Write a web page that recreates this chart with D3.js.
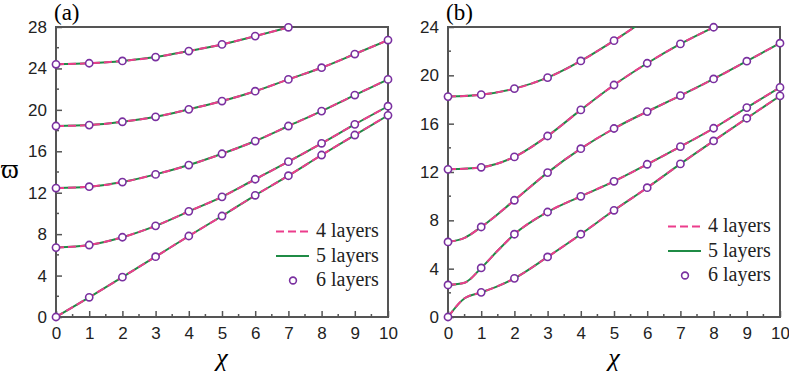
<!DOCTYPE html>
<html>
<head>
<meta charset="utf-8">
<script src="https://cdn.jsdelivr.net/npm/d3@7"></script>
<style>
  body { margin: 0; background: #fff; }
  svg .tick text { font-family: "Liberation Sans", Arial, Helvetica, sans-serif; font-size: 17px; fill: #222; }
  .serif { font-family: "Liberation Serif", "Times New Roman", Times, serif; }
</style>
</head>
<body>
<div id="chart"></div>
<script>
// chi values where the 6-layer circles sit
const chi = [0, 1, 2, 3, 4, 5, 6, 7, 8, 9, 10]

// panel (a) branches, omega at chi = 0..10
const a1 = [0, 1.9, 3.85, 5.82, 7.82, 9.75, 11.75, 13.64, 15.64, 17.57, 19.47]
const a2 = [6.7, 6.95, 7.7, 8.8, 10.2, 11.6, 13.3, 15.0, 16.77, 18.6, 20.35]
const a3 = [12.45, 12.58, 13.03, 13.77, 14.67, 15.76, 16.99, 18.44, 19.88, 21.43, 22.94]
const a4 = [18.44, 18.53, 18.85, 19.33, 20.05, 20.85, 21.8, 22.94, 24.07, 25.39, 26.74]
const a5 = [24.4, 24.5, 24.72, 25.1, 25.68, 26.32, 27.12, 27.97, 28.9]

// panel (b) branches
const b1 = [0, 2.04, 3.2, 4.97, 6.85, 8.83, 10.7, 12.67, 14.57, 16.45, 18.3]
const b2 = [2.65, 4.06, 6.85, 8.69, 9.99, 11.23, 12.64, 14.1, 15.62, 17.33, 19.0]
const b3 = [6.21, 7.45, 9.66, 11.95, 13.93, 15.6, 17.0, 18.32, 19.7, 21.17, 22.66]
const b4 = [12.22, 12.39, 13.25, 14.98, 17.14, 19.2, 21.0, 22.6, 23.98, 25.3]
const b5 = [18.24, 18.4, 18.9, 19.81, 21.19, 22.87, 24.7]

// extra points read between the circles, where the curves bend hard
const b1Mid = [[0.5, 1.55], [1.5, 2.55]]
const b2Mid = [[0.5, 2.84], [1.5, 5.5]]
const b3Mid = [[0.5, 6.55]]

const xTicks = [0, 1, 2, 3, 4, 5, 6, 7, 8, 9, 10]
const aTicks = [0, 4, 8, 12, 16, 20, 24, 28]
const bTicks = [0, 4, 8, 12, 16, 20, 24]
const legendLabels = ['4 layers', '5 layers', '6 layers']

const width = 789
const height = 373
const pink = '#ec3d8c'
const green = '#1f8b45'
const purple = '#7a30a0'
const axisColor = '#555'

const svg = d3.select('#chart').append('svg')
  .attr('width', width)
  .attr('height', height)

function panel (opts) {
  const { id, left, right, top, bottom, yMax, yTicks, series, mids, label, legendY } = opts
  const x = d3.scaleLinear().domain([0, 10]).range([left, right])
  const y = d3.scaleLinear().domain([0, yMax]).range([bottom, top])

  svg.append('clipPath').attr('id', 'clip-' + id)
    .append('rect')
    .attr('x', left).attr('y', top)
    .attr('width', right - left).attr('height', bottom - top)

  const g = svg.append('g')

  // minor ticks
  const xMinor = d3.range(0.5, 10, 1)
  const yMinor = d3.range(2, yMax, 4)
  g.selectAll('.xminor').data(xMinor).join('line')
    .attr('x1', d => x(d)).attr('x2', d => x(d))
    .attr('y1', bottom).attr('y2', bottom - 3)
    .attr('stroke', axisColor).attr('stroke-width', 1.5)
  g.selectAll('.yminor').data(yMinor).join('line')
    .attr('x1', left).attr('x2', left + 3)
    .attr('y1', d => y(d)).attr('y2', d => y(d))
    .attr('stroke', axisColor).attr('stroke-width', 1.5)

  const xAxis = d3.axisBottom(x).tickValues(xTicks).tickSizeInner(-6).tickSizeOuter(0).tickPadding(10)
  const yAxis = d3.axisLeft(y).tickValues(yTicks).tickSizeInner(-6).tickSizeOuter(0).tickPadding(9)

  const gx = g.append('g').attr('transform', `translate(0,${bottom})`).call(xAxis)
  const gy = g.append('g').attr('transform', `translate(${left},0)`).call(yAxis)
  ;[gx, gy].forEach(a => {
    a.attr('font-family', null).attr('font-size', null)
    a.select('.domain').remove()
    a.selectAll('.tick line').attr('stroke', axisColor).attr('stroke-width', 1.5)
  })

  // frame
  g.append('rect')
    .attr('x', left).attr('y', top)
    .attr('width', right - left).attr('height', bottom - top)
    .attr('fill', 'none').attr('stroke', axisColor).attr('stroke-width', 2)

  const line = d3.line()
    .x(d => x(d[0])).y(d => y(d[1]))
    .curve(d3.curveMonotoneX)

  const plot = svg.append('g').attr('clip-path', `url(#clip-${id})`)
  series.forEach((vals, i) => {
    const pts = vals.map((v, k) => [chi[k], v]).concat(mids[i] || [])
      .sort((p, q) => p[0] - q[0])
    plot.append('path').datum(pts)
      .attr('d', line)
      .attr('fill', 'none').attr('stroke', green).attr('stroke-width', 2)
    plot.append('path').datum(pts)
      .attr('d', line)
      .attr('fill', 'none').attr('stroke', pink).attr('stroke-width', 2)
      .attr('stroke-dasharray', '8,4')
  })

  const circ = svg.append('g')
  series.forEach(vals => {
    circ.selectAll(null)
      .data(vals.map((v, k) => [chi[k], v]).filter(d => d[1] <= yMax))
      .join('circle')
      .attr('cx', d => x(d[0])).attr('cy', d => y(d[1]))
      .attr('r', 3.6)
      .attr('fill', '#fff').attr('stroke', purple).attr('stroke-width', 1.6)
  })

  // panel label
  svg.append('text')
    .attr('class', 'serif')
    .attr('x', left - 2).attr('y', 20)
    .attr('font-size', 23)
    .text(label)

  // x label
  svg.append('text')
    .attr('class', 'serif')
    .attr('x', x(5)).attr('y', 366)
    .attr('text-anchor', 'middle')
    .attr('font-style', 'italic')
    .attr('font-size', 26)
    .text('χ')

  // legend
  const lx = right - 112
  const lg = svg.append('g')
  legendLabels.forEach((t, i) => {
    const base = legendY + i * 24.5
    lg.append('text')
      .attr('class', 'serif')
      .attr('x', lx + 40).attr('y', base)
      .attr('font-size', 20)
      .attr('fill', '#222')
      .text(t)
    const cy = base - 5.5
    if (i === 0) {
      lg.append('line').attr('x1', lx).attr('x2', lx + 33).attr('y1', cy).attr('y2', cy)
        .attr('stroke', pink).attr('stroke-width', 2).attr('stroke-dasharray', '8,4')
    } else if (i === 1) {
      lg.append('line').attr('x1', lx).attr('x2', lx + 33).attr('y1', cy).attr('y2', cy)
        .attr('stroke', green).attr('stroke-width', 2)
    } else {
      lg.append('circle').attr('cx', lx + 17).attr('cy', cy).attr('r', 3.4)
        .attr('fill', '#fff').attr('stroke', purple).attr('stroke-width', 1.6)
    }
  })
}

panel({
  id: 'a', left: 56, right: 388, top: 27, bottom: 317,
  yMax: 28, yTicks: aTicks, series: [a1, a2, a3, a4, a5], mids: [],
  label: '(a)', legendY: 237
})
panel({
  id: 'b', left: 448, right: 780, top: 27, bottom: 317,
  yMax: 24, yTicks: bTicks, series: [b1, b2, b3, b4, b5], mids: [b1Mid, b2Mid, b3Mid],
  label: '(b)', legendY: 232
})

// y label
svg.append('text')
  .attr('class', 'serif')
  .attr('x', 10).attr('y', 178)
  .attr('text-anchor', 'middle')
  .attr('font-size', 27)
  .text('ϖ')
</script>
</body>
</html>
